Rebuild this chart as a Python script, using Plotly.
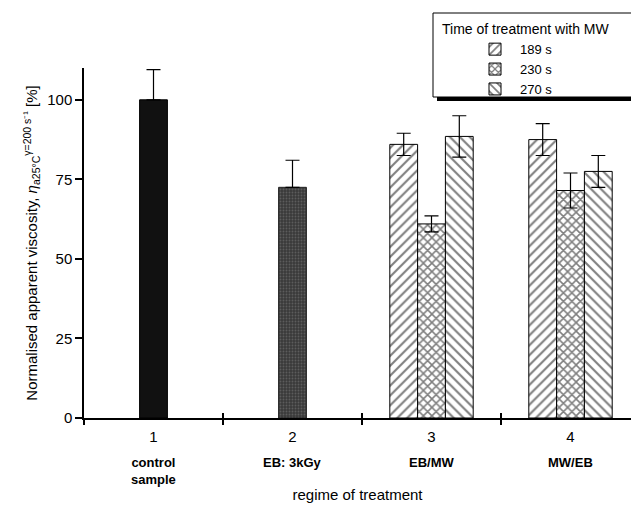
import plotly.graph_objects as go

# ---- data ----
categories = [1, 2, 3, 4]
category_numbers = ["1", "2", "3", "4"]
category_names = ["control<br>sample", "EB: 3kGy", "EB/MW", "MW/EB"]
boundaries = [0.5, 1.5, 2.5, 3.5]

control_value = [100]
control_error = [9.5]
eb_value = [72.5]
eb_error = [8.5]

group_categories = [3, 4]
series_names = ["189 s", "230 s", "270 s"]
values_189 = [86, 87.5]
errors_189 = [3.5, 5]
values_230 = [61, 71.5]
errors_230 = [2.5, 5.5]
values_270 = [88.5, 77.5]
errors_270 = [6.5, 5]

y_ticks = [0, 25, 50, 75, 100]

FONT = "Liberation Sans, Arial, Helvetica, sans-serif"
BW = 0.2

fig = go.Figure()

def err(vals, up_only=False):
    d = dict(type="data", array=vals, color="black", thickness=1.2, width=7)
    if up_only:
        d["symmetric"] = False
        d["arrayminus"] = [0] * len(vals)
    return d

fig.add_trace(go.Bar(x=[categories[0]], y=control_value, width=BW,
                     marker=dict(color="#111111", line=dict(color="black", width=1)),
                     error_y=err(control_error, True), showlegend=False))
fig.add_trace(go.Bar(x=[categories[1]], y=eb_value, width=BW,
                     marker=dict(color="#3a3a3a", line=dict(color="#222", width=1),
                                 pattern=dict(shape=".", fgcolor="#7e7e7e", size=3, solidity=0.3)),
                     error_y=err(eb_error, True), showlegend=False))

series = [
    (series_names[0], values_189, errors_189, "/", -0.3, 7, 0.3),
    (series_names[1], values_230, errors_230, "x", -0.1, 6, 0.45),
    (series_names[2], values_270, errors_270, "\\", 0.1, 7, 0.3),
]
for name, vals, errs, shp, off, psize, psol in series:
    fig.add_trace(go.Bar(x=group_categories, y=vals, width=BW, offset=off, name=name,
                         marker=dict(color="white", line=dict(color="black", width=1),
                                     pattern=dict(shape=shp, fgcolor="black", bgcolor="white",
                                                  size=psize, solidity=psol)),
                         error_y=err(errs)))

# invisible trace for second x axis (inside ticks)
fig.add_trace(go.Scatter(x=[None], y=[None], xaxis="x2", showlegend=False, hoverinfo="skip"))

L, R, T, B = 84, 0, 68, 91
W, H = 631, 509
pw, ph = W - L - R, H - T - B

def px_x(p):
    return (p - L) / pw

def px_y(p):
    return (H - B - p) / ph

xr = [0.5, 0.5 + pw / 139.0]

fig.update_layout(
    width=W, height=H,
    margin=dict(l=L, r=R, t=T, b=B, autoexpand=False),
    paper_bgcolor="white", plot_bgcolor="white",
    barmode="overlay",
    font=dict(family=FONT, color="black", size=14),
    xaxis=dict(range=xr, tickvals=categories, ticktext=category_numbers, automargin=False,
               tickfont=dict(size=15), ticks="", showline=True, linecolor="black",
               linewidth=1.5, showgrid=False, zeroline=False, ticklabelstandoff=4,
               minor=dict(tickvals=boundaries, ticks="outside", ticklen=5, tickcolor="black", tickwidth=1.5),
               title=dict(text="regime of treatment", font=dict(size=15), standoff=46)),
    xaxis2=dict(range=xr, overlaying="x", anchor="y", side="bottom", tickvals=boundaries,
                ticks="inside", ticklen=5, tickcolor="black", tickwidth=1.5, automargin=False,
                showticklabels=False, showline=False, showgrid=False, zeroline=False),
    yaxis=dict(range=[0, 110], tickvals=y_ticks, ticks="outside", ticklen=7, tickwidth=1.5,
               tickcolor="black", tickfont=dict(size=15), showline=True, linecolor="black",
               linewidth=1.5, showgrid=False, zeroline=False, automargin=False,
               title=dict(text="Normalised apparent viscosity, <i>η</i><sub>a25°C</sub><sup>γ=200 s⁻¹</sup> [%]",
                          font=dict(size=15), standoff=6)),
    legend=dict(x=px_x(440), y=px_y(16), xanchor="left", yanchor="top",
                bgcolor="rgba(0,0,0,0)", borderwidth=0,
                title=dict(text="Time of treatment with MW", font=dict(size=14), side="top"),
                indentation=30, font=dict(size=13), itemwidth=40),
    showlegend=True,
)

for c, n in zip(categories, category_names):
    fig.add_annotation(x=c, y=0, xref="x", yref="y", yanchor="top", yshift=-35,
                       text="<b>" + n + "</b>", showarrow=False, font=dict(size=13))

# legend frame with shadow
fig.add_shape(type="rect", xref="paper", yref="paper",
              x0=px_x(433), x1=px_x(640), y0=px_y(97), y1=px_y(13),
              line=dict(color="black", width=1), fillcolor="white", layer="below")
fig.add_shape(type="line", xref="paper", yref="paper",
              x0=px_x(437), x1=px_x(640), y0=px_y(99), y1=px_y(99),
              line=dict(color="black", width=4))

fig.write_html("out.html", config={"displayModeBar": False},
               post_script="document.body.style.margin='0';")
